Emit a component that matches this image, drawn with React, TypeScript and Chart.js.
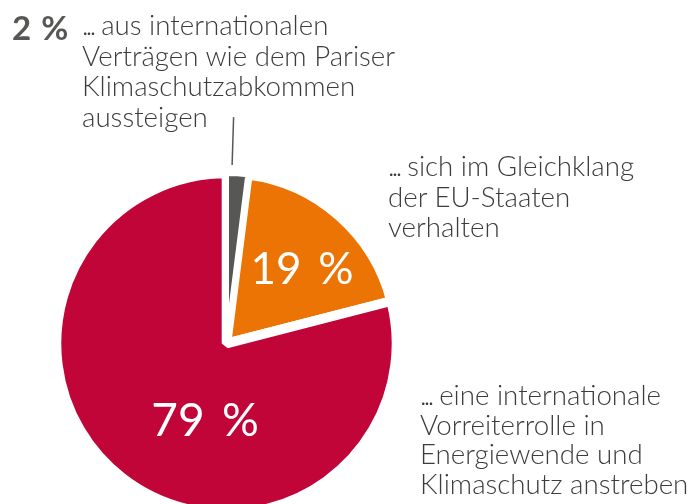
import React, { useEffect, useRef } from 'react';
import { Chart, registerables } from 'chart.js';

Chart.register(...registerables);

// Data (chart order: orange, red, gray — gray drawn last so it sits on top)
const categories = ['Gleichklang der EU-Staaten', 'Internationale Vorreiterrolle', 'Ausstieg aus Verträgen'];
const values = [19, 79, 2];
const colors = ['#EC7404', '#C10538', '#575756'];
const sliceBorders = [9.6, 9.6, 5];

const labelTop = ['... aus internationalen', 'Verträgen wie dem Pariser', 'Klimaschutzabkommen', 'aussteigen'];
const labelMid = ['... sich im Gleichklang', 'der EU-Staaten', 'verhalten'];
const labelBottom = ['... eine internationale', 'Vorreiterrolle in', 'Energiewende und', 'Klimaschutz anstreben'];

const total = values.reduce((a, b) => a + b, 0);
const FONT = 'Lato, "Open Sans", sans-serif';
const TEXT = '#3c3c3b';

const leaderPlugin = {
  id: 'leader',
  afterDatasetsDraw(chart: any) {
    const arc: any = chart.getDatasetMeta(0).data[2];
    if (!arc) return;
    const { x, y, startAngle, endAngle, outerRadius } = arc.getProps(['x', 'y', 'startAngle', 'endAngle', 'outerRadius'], true);
    const a = startAngle + 0.25 * (endAngle - startAngle);
    const ctx = chart.ctx;
    ctx.save();
    ctx.strokeStyle = '#575756';
    ctx.lineWidth = 1.5;
    ctx.beginPath();
    ctx.moveTo(x + Math.cos(a) * (outerRadius + 8.5), y + Math.sin(a) * (outerRadius + 8.5));
    ctx.lineTo(x + Math.cos(a) * (outerRadius + 56.5), y + Math.sin(a) * (outerRadius + 56.5));
    ctx.stroke();
    ctx.restore();
  },
};

function Line({ text }: any) {
  if (text.startsWith('... ')) {
    return (
      <div>
        <span style={{ letterSpacing: '-2.6px' }}>...</span> {text.slice(4)}
      </div>
    );
  }
  return <div>{text}</div>;
}

function Block({ lines, left, baseline, size, lh, weight = 300, color = TEXT, wordSpacing = 'normal' }: any) {
  const off = (lh - 1.2 * size) / 2 + 0.987 * size;
  return (
    <div
      style={{
        position: 'absolute',
        left,
        top: baseline - off,
        fontFamily: FONT,
        fontWeight: weight,
        fontSize: size,
        lineHeight: lh + 'px',
        color,
        whiteSpace: 'nowrap',
        wordSpacing,
      }}
    >
      {lines.map((l: string, i: number) => (
        <Line key={i} text={l} />
      ))}
    </div>
  );
}

function Pct({ text, cx, baseline, size }: any) {
  return (
    <div
      style={{
        position: 'absolute',
        left: cx - 100,
        width: 200,
        textAlign: 'center',
        top: baseline - 0.987 * size,
        fontFamily: FONT,
        fontWeight: 400,
        fontSize: size,
        lineHeight: 1.2 * size + 'px',
        color: '#ffffff',
        whiteSpace: 'nowrap',
        wordSpacing: '0.12em',
      }}
    >
      {text}
    </div>
  );
}

export default function App() {
  const ref = useRef<HTMLCanvasElement>(null);
  useEffect(() => {
    if (!ref.current) return;
    const chart = new Chart(ref.current, {
      type: 'pie',
      data: {
        labels: categories,
        datasets: [
          {
            data: values,
            backgroundColor: colors,
            borderColor: '#ffffff',
            borderWidth: sliceBorders,
            radius: 170,
            hoverOffset: 0,
            clip: false,
          } as any,
        ],
      },
      options: {
        animation: false,
        responsive: false,
        events: [],
        rotation: (values[2] / total) * 360,
        layout: { padding: { left: 0, right: 238, top: 190, bottom: 7 } },
        plugins: { legend: { display: false }, tooltip: { enabled: false } },
      } as any,
      plugins: [leaderPlugin],
    });
    return () => chart.destroy();
  }, []);

  return (
    <div style={{ position: 'fixed', left: 0, top: 0, width: 691, height: 504, overflow: 'hidden', background: '#fff' }}>
      <canvas ref={ref} width={691} height={504} style={{ position: 'absolute', left: 0, top: 0, display: 'block' }} />
      <Block lines={[`${values[2]} %`]} left={12} baseline={40} size={33} lh={38} weight={700} color="#575756" wordSpacing="2px" />
      <Block lines={labelTop} left={82} baseline={36} size={27.7} lh={30.7} />
      <Block lines={labelMid} left={388} baseline={177} size={27.7} lh={30.5} />
      <Block lines={labelBottom} left={420} baseline={405.5} size={27.7} lh={29.5} />
      <Pct text={`${values[0]} %`} cx={302} baseline={284} size={44} />
      <Pct text={`${values[1]} %`} cx={205} baseline={436} size={46} />
    </div>
  );
}
